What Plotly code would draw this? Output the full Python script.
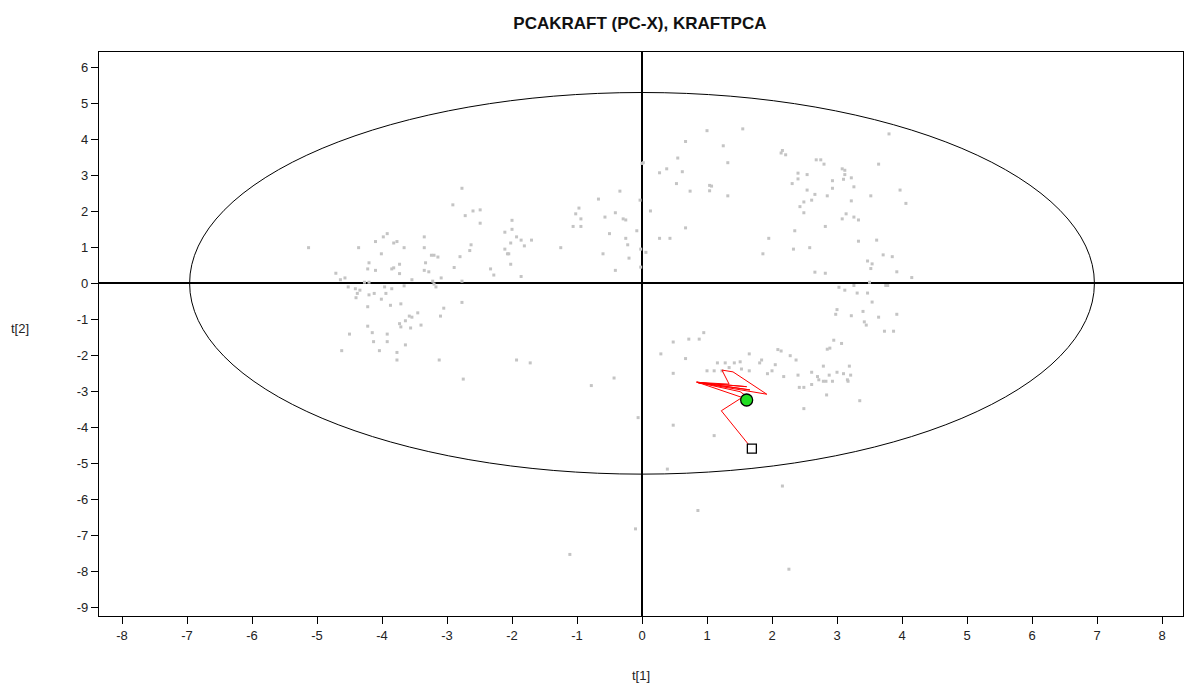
import plotly.graph_objects as go

# Score values t[1], t[2] for the modelling observations
t1 = [
    -2.77, -2.91, -2.72, -2.60, -2.49, -2.49, -5.13, -4.36, -4.10, -3.98,
    -3.92, -3.82, -3.77, -3.66, -3.35, -3.35, -4.01, -4.20, -4.22, -4.10,
    -3.73, -3.85, -3.82, -3.73, -3.33, -3.35, -3.28, -3.24, -3.20, -3.14,
    -2.80, -2.65, -2.63, -2.89, -2.33, -2.28, -2.11, -2.00, -2.00, -1.93,
    -2.02, -2.11, -2.07, -2.05, -2.02, -4.71, -4.64, -4.57, -4.27, -4.20,
    -3.54, -3.22, -3.09, -2.77, -4.52, -4.41, -4.34, -4.38, -4.40, -4.20,
    -4.12, -3.96, -3.85, -3.94, -3.66, -4.01, -4.22, -3.87, -3.71, -3.20,
    -3.17, -2.77, -3.05, -3.10, -3.58, -3.54, -3.45, -3.64, -3.73, -3.71,
    -3.56, -3.40, -4.22, -4.15, -4.50, -3.92, -4.13, -3.92, -3.64, -4.62,
    -4.04, -3.77, -3.77, -3.12, -1.93, -2.75, -1.72,
    0.00, 0.02, 0.27, 0.38, 0.55, 0.53, -0.34, -0.03, -0.67, 0.13,
    -0.97, -1.02, -0.94, -1.06, -0.94, -0.57, -0.41, -0.29, -0.25, -0.50,
    -0.08, -0.25, -0.22, 0.27, 0.43, -1.86, -1.70, -1.81, -1.86, -1.25,
    -0.60, -0.20, -0.02, 0.06, -0.41, -0.02, 0.67, 1.00, 1.55, 1.25,
    0.62, 0.74, 1.04, 1.07, 1.04, 1.32, 1.32, 0.67, 1.95, 1.86,
    2.16, 2.14, 2.21, 2.68, 2.75, 2.80, 2.40, 2.54, 2.40, 2.31,
    2.93, 2.93, 2.54, 2.66, 2.85, 2.49, 2.61, 2.43, 2.49, 2.82,
    2.35, 2.33, 2.58, 2.66, 2.82, 3.03, 3.64, 3.80, 3.08, 3.12,
    3.12, 3.22, 3.10, 3.26, 3.22, 3.52, 3.97, 4.06, 3.14, 3.08,
    3.26, 3.33, 3.33, 3.61, 3.71, 3.85, 3.47, 3.54, 3.52, 3.92,
    4.15, 3.50, 3.75, 3.78, 3.12, 3.26, 3.31, 3.47, 3.54, 3.00,
    2.98, 3.22, 3.40, 3.64, 3.92, 3.73, 3.87, 3.42, 3.45,
    0.95, 0.48, 0.72, 0.88, 0.29, 0.67, 0.48, 1.16, 1.28, 1.42,
    1.51, 1.00, 1.11, 1.23, 1.34, 1.53, 1.65, 1.65, 1.81, 1.84,
    2.09, 2.14, 2.28, 2.37, 2.05, 1.93, 2.00, 2.18, 2.95, 2.89,
    2.85, 3.07, 2.79, 3.19, 2.61, 2.70, 2.72, 2.79, 2.83, 2.88,
    2.93, 3.00, 3.10, 3.16, 3.21, 3.17, 2.40, 2.42, 2.49, 2.61,
    2.84, 3.35, 2.49, 0.48, 1.11, 0.39, -0.43, -0.78, -0.06, 2.16,
    0.86, -0.10, -1.11, 2.26,
]
t2 = [
    2.64, 2.18, 1.88, 2.01, 2.04, 1.67, 0.99, 0.99, 1.16, 1.29,
    1.38, 1.12, 1.16, 0.99, 1.29, 0.99, 0.82, 0.57, 0.40, 0.36,
    0.53, 0.40, 0.43, 0.27, 0.57, 0.36, 0.32, 0.78, 0.78, 0.73,
    0.74, 0.91, 1.07, 0.44, 0.40, 0.23, 1.42, 1.50, 1.75, 1.29,
    1.12, 0.95, 0.82, 0.82, 0.53, 0.28, 0.10, 0.15, 0.03, 0.03,
    0.10, 0.06, 0.15, 0.06, -0.10, -0.15, -0.19, -0.28, -0.40, -0.32,
    -0.28, -0.10, -0.15, -0.28, -0.07, -0.44, -0.65, -0.61, -0.57, -0.02,
    -0.10, -0.53, -0.69, -0.91, -0.91, -0.94, -0.82, -1.04, -1.12, -1.21,
    -1.24, -1.16, -1.19, -1.37, -1.41, -1.41, -1.62, -1.62, -1.71, -1.87,
    -1.87, -1.92, -2.13, -2.13, -2.13, -2.66, -2.21,
    3.33, 3.35, 3.07, 3.18, 3.48, 2.77, 2.56, 2.31, 2.34, 2.01,
    2.09, 1.93, 1.79, 1.58, 1.58, 1.84, 1.96, 1.79, 1.76, 1.38,
    1.46, 1.25, 1.07, 1.25, 1.25, 1.20, 1.20, 1.04, 0.19, 0.99,
    0.82, 0.70, 0.95, 0.86, 0.36, 0.45, 3.94, 4.24, 4.29, 3.82,
    3.10, 2.56, 2.72, 2.70, 2.57, 3.35, 2.43, 1.54, 1.25, 0.82,
    3.69, 3.62, 3.57, 3.43, 3.43, 3.31, 3.06, 3.02, 2.90, 2.77,
    2.85, 2.64, 2.59, 2.47, 2.43, 2.26, 2.31, 2.13, 1.96, 1.58,
    1.46, 0.95, 0.99, 0.31, 0.28, -0.11, 3.31, 4.15, 3.18, 3.14,
    3.02, 2.93, 2.89, 2.68, 2.29, 2.43, 2.59, 2.22, 1.93, 1.79,
    1.84, 1.76, 1.17, 1.20, 0.79, 0.74, 0.62, 0.54, 0.41, 0.32,
    0.16, 0.03, -0.06, -0.06, -0.19, -0.06, -0.27, -0.27, -0.52, -0.73,
    -0.86, -0.90, -0.78, -0.94, -0.86, -1.33, -1.33, -1.07, -1.16,
    -1.37, -1.63, -1.55, -1.55, -1.96, -2.09, -2.50, -2.21, -2.21, -2.21,
    -2.18, -2.43, -2.43, -2.43, -2.34, -2.38, -2.43, -1.96, -2.21, -2.13,
    -1.84, -1.88, -2.01, -2.13, -2.26, -2.51, -2.43, -2.59, -1.58, -1.80,
    -1.83, -1.67, -2.30, -2.30, -2.47, -2.59, -2.68, -2.72, -2.72, -2.55,
    -2.72, -2.47, -2.51, -2.68, -2.55, -2.72, -2.55, -2.89, -2.89, -2.81,
    -3.10, -3.26, -3.48, -3.94, -4.23, -5.16, -2.63, -2.84, -3.73, -5.63,
    -6.31, -6.82, -7.53, -7.94,
]

# Trajectory of the new observations (first = square, last = circle)
traj_t1 = [1.69, 1.22, 1.54, 0.84, 1.66, 0.84, 1.61, 0.86, 1.92, 1.40,
           1.23, 1.34, 0.85, 1.51, 1.58, 1.61]
traj_t2 = [-4.59, -3.54, -3.17, -2.74, -2.96, -2.75, -2.87, -2.76, -3.08, -2.46,
           -2.41, -2.80, -2.75, -3.01, -3.10, -3.24]

# Hotelling T2 ellipse semi-axes
ell_a = 6.96
ell_b = 5.30

x_ticks = list(range(-8, 9))
y_ticks = list(range(-9, 7))
x_labels = [str(v) for v in x_ticks]
y_labels = [str(v) for v in y_ticks]

font_family = "Liberation Sans, Arial, sans-serif"

fig = go.Figure()

fig.add_trace(go.Scatter(
    x=t1, y=t2, mode="markers",
    marker=dict(symbol="square", size=3, color="#c4c4c4", line=dict(width=0)),
    hoverinfo="x+y", showlegend=False,
))

fig.add_trace(go.Scatter(
    x=traj_t1, y=traj_t2, mode="lines",
    line=dict(color="#ff0000", width=1),
    hoverinfo="skip", showlegend=False,
))

fig.add_trace(go.Scatter(
    x=traj_t1[:1], y=traj_t2[:1], mode="markers",
    marker=dict(symbol="square", size=9, color="white", line=dict(color="black", width=1.3)),
    showlegend=False,
))

fig.add_trace(go.Scatter(
    x=traj_t1[-1:], y=traj_t2[-1:], mode="markers",
    marker=dict(symbol="circle", size=12, color="#22dd22", line=dict(color="black", width=1.3)),
    showlegend=False,
))

fig.add_shape(type="circle", xref="x", yref="y",
              x0=-ell_a, x1=ell_a, y0=-ell_b, y1=ell_b,
              line=dict(color="black", width=1), layer="above")

axis_common = dict(
    showgrid=False, zeroline=True, zerolinecolor="black", zerolinewidth=1.6,
    showline=True, linecolor="black", linewidth=1.3, mirror=True,
    ticks="outside", ticklen=7, tickwidth=1.3, tickcolor="black",
    tickfont=dict(family=font_family, size=13, color="#222222"),
)

fig.update_layout(
    width=1185, height=686,
    margin=dict(l=99, r=2, t=52, b=70),
    paper_bgcolor="white", plot_bgcolor="white",
    title=dict(text="<b>PCAKRAFT (PC-X), KRAFTPCA</b>", x=0.54, xanchor="center",
               y=0.975, yanchor="top",
               font=dict(family=font_family, size=17, color="#111111")),
    xaxis=dict(range=[-8.354, 8.323], tickvals=x_ticks, ticktext=x_labels, **axis_common),
    yaxis=dict(range=[-9.24, 6.425], tickvals=y_ticks, ticktext=y_labels, **axis_common),
    annotations=[
        dict(text="t[1]", xref="paper", yref="paper", x=0.5, y=-0.105,
             xanchor="center", yanchor="middle", showarrow=False,
             font=dict(family=font_family, size=13, color="#222222")),
        dict(text="t[2]", xref="paper", yref="paper", x=-0.073, y=0.51,
             xanchor="center", yanchor="middle", showarrow=False,
             font=dict(family=font_family, size=13, color="#222222")),
    ],
)

fig.write_html("out.html")
